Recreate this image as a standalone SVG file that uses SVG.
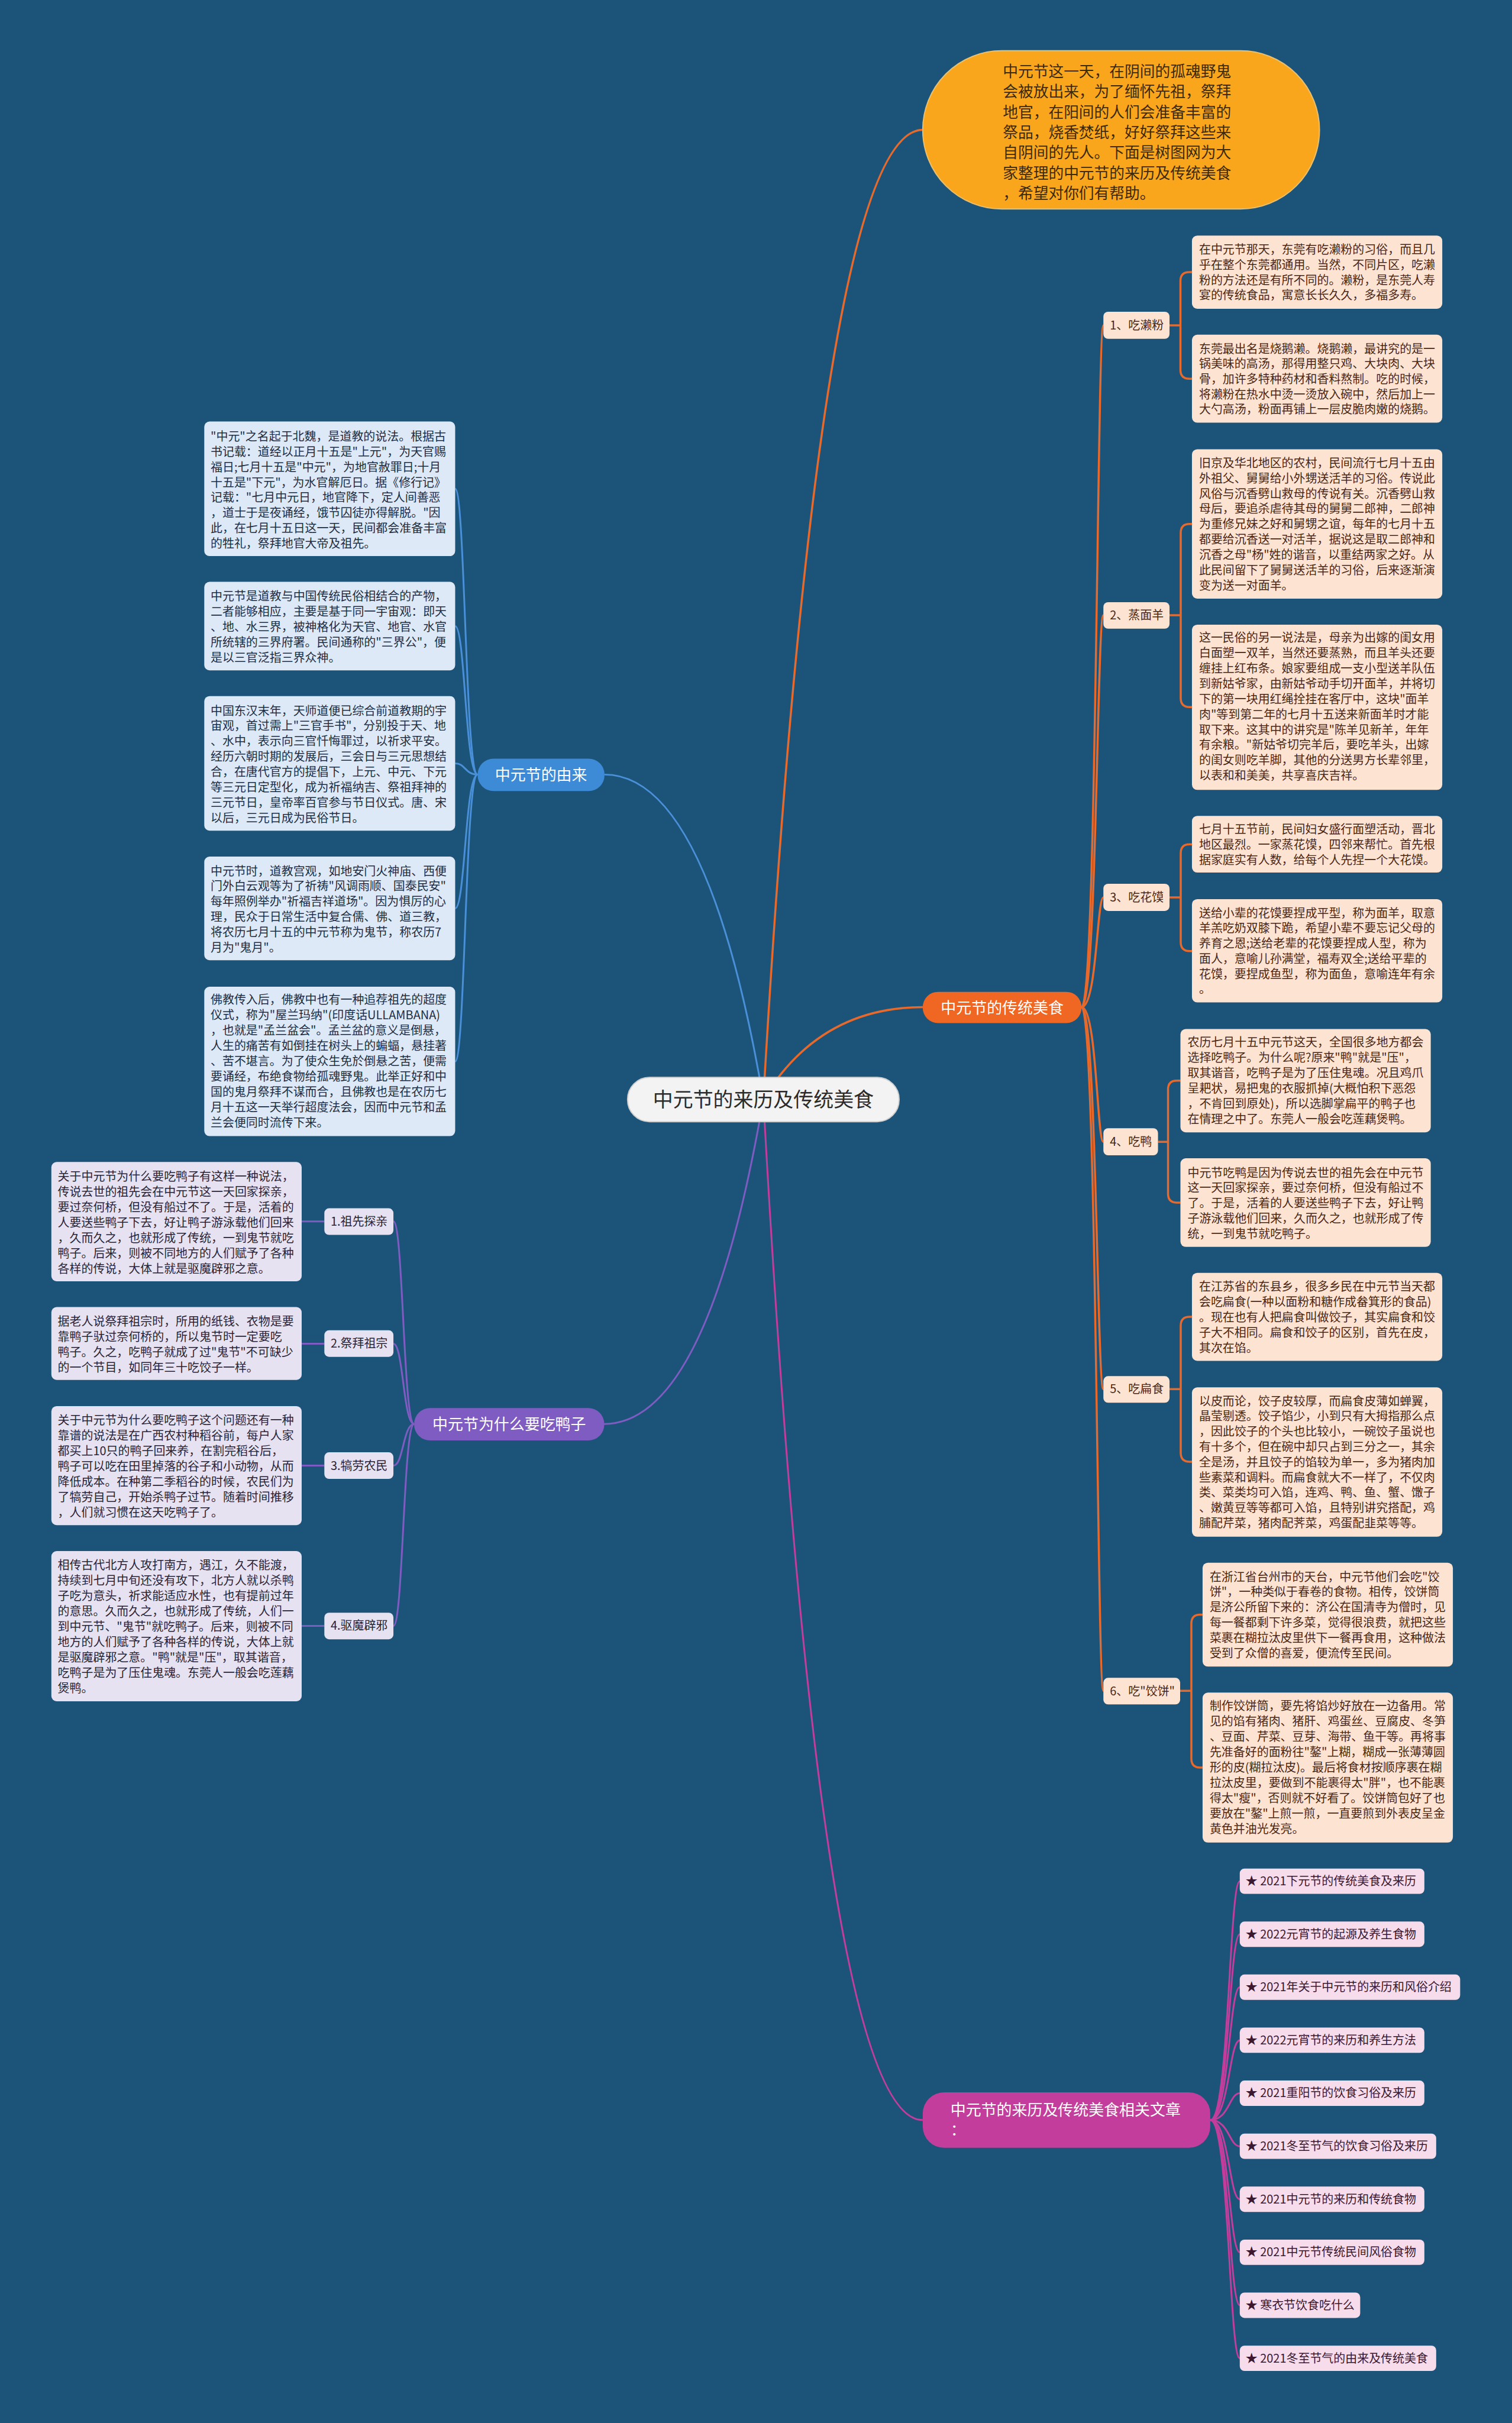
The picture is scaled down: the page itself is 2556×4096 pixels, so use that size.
<svg xmlns="http://www.w3.org/2000/svg" width="2556" height="4096" viewBox="0 0 2556 4096">
<style>
text{font-family:"Noto Sans CJK SC","Noto Sans",sans-serif;}
.t20{font-size:20px;}
.lf{fill:#fde3d2;}
.lft{fill:#4a2816;}
.bl{fill:#dde9f6;}
.blt{fill:#1d2e45;}
.pl{fill:#e6e2f1;}
.plt{fill:#2a2438;}
.pk{fill:#f7dcec;}
.pkt{fill:#3a1830;}
.co{fill:none;stroke:#e7692b;stroke-width:3.5;}
.cb{fill:none;stroke:#4a90d9;stroke-width:3;}
.cp{fill:none;stroke:#7e5cc2;stroke-width:3;}
.cm{fill:none;stroke:#c23d9c;stroke-width:3;}
.br{font-size:26px;fill:#ffffff;text-anchor:middle;}
</style>
<rect x="0" y="0" width="2556" height="4096" fill="#1c5479"/>
<g transform="scale(0.998)">
<g id="connectors">
<path class="co" d="M1293,1862 Q1388,220 1563,220"/>
<path class="co" d="M1293,1862 Q1388,1706 1563,1706"/>
<path class="cm" d="M1293,1862 Q1388,3591 1563,3591"/>
<path class="cb" d="M1293,1862 Q1199,1312 1024,1312"/>
<path class="cp" d="M1293,1862 Q1199,2412 1023,2412"/>
<!-- food spine -->
<path class="co" d="M1832,1706 C1858,1706 1858,551 1869,551"/>
<path class="co" d="M1832,1706 C1858,1706 1858,1042 1869,1042"/>
<path class="co" d="M1832,1706 C1858,1706 1858,1520 1869,1520"/>
<path class="co" d="M1832,1706 C1858,1706 1858,1934 1869,1934"/>
<path class="co" d="M1832,1706 C1858,1706 1858,2353 1869,2353"/>
<path class="co" d="M1832,1706 C1858,1706 1858,2864 1869,2864"/>
<!-- food brackets -->
<path class="co" d="M1981,551 H1999.5 V476 Q1999.5,461 2014.5,461 H2019 M1999.5,551 V626.5 Q1999.5,641.5 2014.5,641.5 H2019"/>
<path class="co" d="M1981,1042 H2000 V902.5 Q2000,887.5 2015,887.5 H2019 M2000,1042 V1182.7 Q2000,1197.7 2015,1197.7 H2019"/>
<path class="co" d="M1981,1520 H2000 V1445 Q2000,1430 2015,1430 H2019 M2000,1520 V1596 Q2000,1611 2015,1611 H2019"/>
<path class="co" d="M1961.5,1934 H1978.5 V1845.5 Q1978.5,1830.5 1993.5,1830.5 H1999.5 M1978.5,1934 V2022 Q1978.5,2037 1993.5,2037 H1999.5"/>
<path class="co" d="M1981,2353 H2000 V2245.5 Q2000,2230.5 2015,2230.5 H2019 M2000,2353 V2461 Q2000,2476 2015,2476 H2019"/>
<path class="co" d="M1999,2864 H2018 V2750 Q2018,2735 2033,2735 H2037 M2018,2864 V2979 Q2018,2994 2033,2994 H2037"/>
<!-- origin -->
<path class="cb" d="M809,1312 C788,1312 788,828 771,828"/>
<path class="cb" d="M809,1312 C788,1312 788,1060.6 771,1060.6"/>
<path class="cb" d="M809,1312 C788,1312 788,1293 771,1293"/>
<path class="cb" d="M809,1312 C788,1312 788,1538.7 771,1538.7"/>
<path class="cb" d="M809,1312 C788,1312 788,1798 771,1798"/>
<!-- duck -->
<path class="cp" d="M701.5,2412 C683,2412 683,2069 666.4,2069"/>
<path class="cp" d="M701.5,2412 C683,2412 683,2276 666.4,2276"/>
<path class="cp" d="M701.5,2412 C683,2412 683,2482.5 666.4,2482.5"/>
<path class="cp" d="M701.5,2412 C683,2412 683,2754 666.4,2754"/>
<path class="cp" d="M511,2069 H549.4 M511,2276 H549.4 M511,2482.5 H549.4 M511,2754 H549.4"/>
<!-- related -->
<path class="cm" d="M2050,3591 C2082,3591 2082,3186.5 2100,3186.5"/>
<path class="cm" d="M2050,3591 C2082,3591 2082,3276.3 2100,3276.3"/>
<path class="cm" d="M2050,3591 C2082,3591 2082,3366 2100,3366"/>
<path class="cm" d="M2050,3591 C2082,3591 2082,3455.8 2100,3455.8"/>
<path class="cm" d="M2050,3591 C2082,3591 2082,3545.6 2100,3545.6"/>
<path class="cm" d="M2050,3591 C2082,3591 2082,3635.4 2100,3635.4"/>
<path class="cm" d="M2050,3591 C2082,3591 2082,3725.2 2100,3725.2"/>
<path class="cm" d="M2050,3591 C2082,3591 2082,3815 2100,3815"/>
<path class="cm" d="M2050,3591 C2082,3591 2082,3904.8 2100,3904.8"/>
<path class="cm" d="M2050,3591 C2082,3591 2082,3994.6 2100,3994.6"/>
</g>

<g id="node-root">
<rect x="1063" y="1825" width="460" height="75" rx="37" fill="#f3f3f3" stroke="#cfcfcf" stroke-width="2"/>
<text x="1293" y="1875" font-size="34" fill="#2b2b2b" text-anchor="middle">中元节的来历及传统美食</text>
</g>

<g id="node-intro">
<rect x="1563" y="86" width="672" height="268" rx="134" fill="#faa61d" stroke="#e8c070" stroke-width="2"/>
<text font-size="25.8" fill="#3b2a0e">
<tspan x="1698.6" y="130">中元节这一天，在阴间的孤魂野鬼</tspan>
<tspan x="1698.6" dy="34.45">会被放出来，为了缅怀先祖，祭拜</tspan>
<tspan x="1698.6" dy="34.45">地官，在阳间的人们会准备丰富的</tspan>
<tspan x="1698.6" dy="34.45">祭品，烧香焚纸，好好祭拜这些来</tspan>
<tspan x="1698.6" dy="34.45">自阴间的先人。下面是树图网为大</tspan>
<tspan x="1698.6" dy="34.45">家整理的中元节的来历及传统美食</tspan>
<tspan x="1698.6" dy="34.45">，希望对你们有帮助。</tspan>
</text>
</g>

<g id="node-food">
<rect x="1563" y="1680" width="269" height="53" rx="26" fill="#f06723"/>
<text x="1697.5" y="1716" class="br">中元节的传统美食</text>
</g>

<g id="node-food-1">
<rect class="lf" x="1869" y="528" width="112" height="46" rx="8"/>
<text class="t20 lft" x="1880" y="558">1、吃濑粉</text>
</g>
<g id="node-food-1a">
<rect class="lf" x="2019" y="399" width="424" height="124" rx="9"/>
<text class="t20 lft"><tspan x="2031" y="430">在中元节那天，东莞有吃濑粉的习俗，而且几</tspan><tspan x="2031" dy="25.8">乎在整个东莞都通用。当然，不同片区，吃濑</tspan><tspan x="2031" dy="25.8">粉的方法还是有所不同的。濑粉，是东莞人寿</tspan><tspan x="2031" dy="25.8">宴的传统食品，寓意长长久久，多福多寿。</tspan></text>
</g>
<g id="node-food-1b">
<rect class="lf" x="2019" y="567" width="424" height="149" rx="9"/>
<text class="t20 lft"><tspan x="2031" y="597.7">东莞最出名是烧鹅濑。烧鹅濑，最讲究的是一</tspan><tspan x="2031" dy="25.8">锅美味的高汤，那得用整只鸡、大块肉、大块</tspan><tspan x="2031" dy="25.8">骨，加许多特种药材和香料熬制。吃的时候，</tspan><tspan x="2031" dy="25.8">将濑粉在热水中烫一烫放入碗中，然后加上一</tspan><tspan x="2031" dy="25.8">大勺高汤，粉面再铺上一层皮脆肉嫩的烧鹅。</tspan></text>
</g>

<g id="node-food-2">
<rect class="lf" x="1869" y="1020" width="112" height="45" rx="8"/>
<text class="t20 lft" x="1880" y="1049.5">2、蒸面羊</text>
</g>
<g id="node-food-2a">
<rect class="lf" x="2019" y="761" width="424" height="253" rx="9"/>
<text class="t20 lft"><tspan x="2031" y="791.4">旧京及华北地区的农村，民间流行七月十五由</tspan><tspan x="2031" dy="25.9">外祖父、舅舅给小外甥送活羊的习俗。传说此</tspan><tspan x="2031" dy="25.9">风俗与沉香劈山救母的传说有关。沉香劈山救</tspan><tspan x="2031" dy="25.9">母后，要追杀虐待其母的舅舅二郎神，二郎神</tspan><tspan x="2031" dy="25.9">为重修兄妹之好和舅甥之谊，每年的七月十五</tspan><tspan x="2031" dy="25.9">都要给沉香送一对活羊，据说这是取二郎神和</tspan><tspan x="2031" dy="25.9">沉香之母"杨"姓的谐音，以重结两家之好。从</tspan><tspan x="2031" dy="25.9">此民间留下了舅舅送活羊的习俗，后来逐渐演</tspan><tspan x="2031" dy="25.9">变为送一对面羊。</tspan></text>
</g>
<g id="node-food-2b">
<rect class="lf" x="2019" y="1058" width="424" height="280" rx="9"/>
<text class="t20 lft"><tspan x="2031" y="1087">这一民俗的另一说法是，母亲为出嫁的闺女用</tspan><tspan x="2031" dy="26">白面塑一双羊，当然还要蒸熟，而且羊头还要</tspan><tspan x="2031" dy="26">缠挂上红布条。娘家要组成一支小型送羊队伍</tspan><tspan x="2031" dy="26">到新姑爷家，由新姑爷动手切开面羊，并将切</tspan><tspan x="2031" dy="26">下的第一块用红绳拴挂在客厅中，这块"面羊</tspan><tspan x="2031" dy="26">肉"等到第二年的七月十五送来新面羊时才能</tspan><tspan x="2031" dy="26">取下来。这其中的讲究是"陈羊见新羊，年年</tspan><tspan x="2031" dy="26">有余粮。"新姑爷切完羊后，要吃羊头，出嫁</tspan><tspan x="2031" dy="26">的闺女则吃羊脚，其他的分送男方长辈邻里，</tspan><tspan x="2031" dy="26">以表和和美美，共享喜庆吉祥。</tspan></text>
</g>

<g id="node-food-3">
<rect class="lf" x="1869" y="1497" width="112" height="46" rx="8"/>
<text class="t20 lft" x="1880" y="1527">3、吃花馍</text>
</g>
<g id="node-food-3a">
<rect class="lf" x="2019" y="1382" width="424" height="96" rx="9"/>
<text class="t20 lft"><tspan x="2031" y="1412">七月十五节前，民间妇女盛行面塑活动，晋北</tspan><tspan x="2031" dy="25.8">地区最烈。一家蒸花馍，四邻来帮忙。首先根</tspan><tspan x="2031" dy="25.8">据家庭实有人数，给每个人先捏一个大花馍。</tspan></text>
</g>
<g id="node-food-3b">
<rect class="lf" x="2019" y="1523" width="424" height="175" rx="9"/>
<text class="t20 lft"><tspan x="2031" y="1553.7">送给小辈的花馍要捏成平型，称为面羊，取意</tspan><tspan x="2031" dy="25.8">羊羔吃奶双膝下跪，希望小辈不要忘记父母的</tspan><tspan x="2031" dy="25.8">养育之恩;送给老辈的花馍要捏成人型，称为</tspan><tspan x="2031" dy="25.8">面人，意喻儿孙满堂，福寿双全;送给平辈的</tspan><tspan x="2031" dy="25.8">花馍，要捏成鱼型，称为面鱼，意喻连年有余</tspan><tspan x="2031" dy="25.8">。</tspan></text>
</g>

<g id="node-food-4">
<rect class="lf" x="1869" y="1911" width="92.5" height="46" rx="8"/>
<text class="t20 lft" x="1880" y="1941">4、吃鸭</text>
</g>
<g id="node-food-4a">
<rect class="lf" x="1999.5" y="1743" width="424" height="175" rx="9"/>
<text class="t20 lft"><tspan x="2011.5" y="1773">农历七月十五中元节这天，全国很多地方都会</tspan><tspan x="2011.5" dy="26">选择吃鸭子。为什么呢?原来"鸭"就是"压"，</tspan><tspan x="2011.5" dy="26">取其谐音，吃鸭子是为了压住鬼魂。况且鸡爪</tspan><tspan x="2011.5" dy="26">呈耙状，易把鬼的衣服抓掉(大概怕积下恶怨</tspan><tspan x="2011.5" dy="26">，不肯回到原处)，所以选脚掌扁平的鸭子也</tspan><tspan x="2011.5" dy="26">在情理之中了。东莞人一般会吃莲藕煲鸭。</tspan></text>
</g>
<g id="node-food-4b">
<rect class="lf" x="1999.5" y="1962" width="424" height="150" rx="9"/>
<text class="t20 lft"><tspan x="2011.5" y="1993.7">中元节吃鸭是因为传说去世的祖先会在中元节</tspan><tspan x="2011.5" dy="25.8">这一天回家探亲，要过奈何桥，但没有船过不</tspan><tspan x="2011.5" dy="25.8">了。于是，活着的人要送些鸭子下去，好让鸭</tspan><tspan x="2011.5" dy="25.8">子游泳载他们回来，久而久之，也就形成了传</tspan><tspan x="2011.5" dy="25.8">统，一到鬼节就吃鸭子。</tspan></text>
</g>

<g id="node-food-5">
<rect class="lf" x="1869" y="2331" width="112" height="45" rx="8"/>
<text class="t20 lft" x="1880" y="2360">5、吃扁食</text>
</g>
<g id="node-food-5a">
<rect class="lf" x="2019" y="2156" width="424" height="149" rx="9"/>
<text class="t20 lft"><tspan x="2031" y="2186.3">在江苏省的东县乡，很多乡民在中元节当天都</tspan><tspan x="2031" dy="26">会吃扁食(一种以面粉和糖作成畚箕形的食品)</tspan><tspan x="2031" dy="26">。现在也有人把扁食叫做饺子，其实扁食和饺</tspan><tspan x="2031" dy="26">子大不相同。扁食和饺子的区别，首先在皮，</tspan><tspan x="2031" dy="26">其次在馅。</tspan></text>
</g>
<g id="node-food-5b">
<rect class="lf" x="2019" y="2350" width="424" height="253" rx="9"/>
<text class="t20 lft"><tspan x="2031" y="2380.3">以皮而论，饺子皮较厚，而扁食皮薄如蝉翼，</tspan><tspan x="2031" dy="25.85">晶莹剔透。饺子馅少，小到只有大拇指那么点</tspan><tspan x="2031" dy="25.85">，因此饺子的个头也比较小，一碗饺子虽说也</tspan><tspan x="2031" dy="25.85">有十多个，但在碗中却只占到三分之一，其余</tspan><tspan x="2031" dy="25.85">全是汤，并且饺子的馅较为单一，多为猪肉加</tspan><tspan x="2031" dy="25.85">些素菜和调料。而扁食就大不一样了，不仅肉</tspan><tspan x="2031" dy="25.85">类、菜类均可入馅，连鸡、鸭、鱼、蟹、馓子</tspan><tspan x="2031" dy="25.85">、嫩黄豆等等都可入馅，且特别讲究搭配，鸡</tspan><tspan x="2031" dy="25.85">脯配芹菜，猪肉配荠菜，鸡蛋配韭菜等等。</tspan></text>
</g>

<g id="node-food-6">
<rect class="lf" x="1869" y="2842" width="130" height="45" rx="8"/>
<text class="t20 lft" x="1880" y="2871.5">6、吃"饺饼"</text>
</g>
<g id="node-food-6a">
<rect class="lf" x="2037" y="2647" width="424" height="176" rx="9"/>
<text class="t20 lft"><tspan x="2049" y="2678">在浙江省台州市的天台，中元节他们会吃"饺</tspan><tspan x="2049" dy="25.9">饼"，一种类似于春卷的食物。相传，饺饼筒</tspan><tspan x="2049" dy="25.9">是济公所留下来的：济公在国清寺为僧时，见</tspan><tspan x="2049" dy="25.9">每一餐都剩下许多菜，觉得很浪费，就把这些</tspan><tspan x="2049" dy="25.9">菜裹在糊拉汰皮里供下一餐再食用，这种做法</tspan><tspan x="2049" dy="25.9">受到了众僧的喜爱，便流传至民间。</tspan></text>
</g>
<g id="node-food-6b">
<rect class="lf" x="2037" y="2867" width="424" height="254" rx="9"/>
<text class="t20 lft"><tspan x="2049" y="2897">制作饺饼筒，要先将馅炒好放在一边备用。常</tspan><tspan x="2049" dy="26">见的馅有猪肉、猪肝、鸡蛋丝、豆腐皮、冬笋</tspan><tspan x="2049" dy="26">、豆面、芹菜、豆芽、海带、鱼干等。再将事</tspan><tspan x="2049" dy="26">先准备好的面粉往"鏊"上糊，糊成一张薄薄圆</tspan><tspan x="2049" dy="26">形的皮(糊拉汰皮)。最后将食材按顺序裹在糊</tspan><tspan x="2049" dy="26">拉汰皮里，要做到不能裹得太"胖"，也不能裹</tspan><tspan x="2049" dy="26">得太"瘦"，否则就不好看了。饺饼筒包好了也</tspan><tspan x="2049" dy="26">要放在"鏊"上煎一煎，一直要煎到外表皮呈金</tspan><tspan x="2049" dy="26">黄色并油光发亮。</tspan></text>
</g>

<g id="node-origin">
<rect x="809" y="1285" width="215" height="55" rx="27" fill="#3d8ad6"/>
<text x="916.5" y="1322" class="br">中元节的由来</text>
</g>
<g id="node-origin-1">
<rect class="bl" x="346" y="714" width="425" height="228" rx="9"/>
<text class="t20 blt"><tspan x="356.7" y="746.5">"中元"之名起于北魏，是道教的说法。根据古</tspan><tspan x="356.7" dy="25.9">书记载：道经以正月十五是"上元"，为天官赐</tspan><tspan x="356.7" dy="25.9">福日;七月十五是"中元"，为地官赦罪日;十月</tspan><tspan x="356.7" dy="25.9">十五是"下元"，为水官解厄日。据《修行记》</tspan><tspan x="356.7" dy="25.9">记载："七月中元日，地官降下，定人间善恶</tspan><tspan x="356.7" dy="25.9">，道士于是夜诵经，饿节囚徒亦得解脱。"因</tspan><tspan x="356.7" dy="25.9">此，在七月十五日这一天，民间都会准备丰富</tspan><tspan x="356.7" dy="25.9">的牲礼，祭拜地官大帝及祖先。</tspan></text>
</g>
<g id="node-origin-2">
<rect class="bl" x="346" y="985.5" width="425" height="150" rx="9"/>
<text class="t20 blt"><tspan x="356.7" y="1017.4">中元节是道教与中国传统民俗相结合的产物，</tspan><tspan x="356.7" dy="25.9">二者能够相应，主要是基于同一宇宙观：即天</tspan><tspan x="356.7" dy="25.9">、地、水三界，被神格化为天官、地官、水官</tspan><tspan x="356.7" dy="25.9">所统辖的三界府署。民间通称的"三界公"，便</tspan><tspan x="356.7" dy="25.9">是以三官泛指三界众神。</tspan></text>
</g>
<g id="node-origin-3">
<rect class="bl" x="346" y="1179" width="425" height="228" rx="9"/>
<text class="t20 blt"><tspan x="356.7" y="1211">中国东汉末年，天师道便已综合前道教期的宇</tspan><tspan x="356.7" dy="25.9">宙观，首过需上"三官手书"，分别投于天、地</tspan><tspan x="356.7" dy="25.9">、水中，表示向三官忏悔罪过，以祈求平安。</tspan><tspan x="356.7" dy="25.9">经历六朝时期的发展后，三会日与三元思想结</tspan><tspan x="356.7" dy="25.9">合，在唐代官方的提倡下，上元、中元、下元</tspan><tspan x="356.7" dy="25.9">等三元日定型化，成为祈福纳吉、祭祖拜神的</tspan><tspan x="356.7" dy="25.9">三元节日，皇帝率百官参与节日仪式。唐、宋</tspan><tspan x="356.7" dy="25.9">以后，三元日成为民俗节日。</tspan></text>
</g>
<g id="node-origin-4">
<rect class="bl" x="346" y="1451" width="425" height="175.5" rx="9"/>
<text class="t20 blt"><tspan x="356.7" y="1482.5">中元节时，道教宫观，如地安门火神庙、西便</tspan><tspan x="356.7" dy="25.9">门外白云观等为了祈祷"风调雨顺、国泰民安"</tspan><tspan x="356.7" dy="25.9">每年照例举办"祈福吉祥道场"。因为惧厉的心</tspan><tspan x="356.7" dy="25.9">理，民众于日常生活中复合儒、佛、道三教，</tspan><tspan x="356.7" dy="25.9">将农历七月十五的中元节称为鬼节，称农历7</tspan><tspan x="356.7" dy="25.9">月为"鬼月"。</tspan></text>
</g>
<g id="node-origin-5">
<rect class="bl" x="346" y="1671.4" width="425" height="253" rx="9"/>
<text class="t20 blt"><tspan x="356.7" y="1700.9">佛教传入后，佛教中也有一种追荐祖先的超度</tspan><tspan x="356.7" dy="26">仪式，称为"屋兰玛纳"(印度话ULLAMBANA)</tspan><tspan x="356.7" dy="26">，也就是"孟兰盆会"。孟兰盆的意义是倒悬，</tspan><tspan x="356.7" dy="26">人生的痛苦有如倒挂在树头上的蝙蝠，悬挂著</tspan><tspan x="356.7" dy="26">、苦不堪言。为了使众生免於倒悬之苦，便需</tspan><tspan x="356.7" dy="26">要诵经，布绝食物给孤魂野鬼。此举正好和中</tspan><tspan x="356.7" dy="26">国的鬼月祭拜不谋而合，且佛教也是在农历七</tspan><tspan x="356.7" dy="26">月十五这一天举行超度法会，因而中元节和孟</tspan><tspan x="356.7" dy="26">兰会便同时流传下来。</tspan></text>
</g>

<g id="node-duck">
<rect x="701.5" y="2385" width="322" height="55" rx="27" fill="#7e5cc2"/>
<text x="862.5" y="2422" class="br">中元节为什么要吃鸭子</text>
</g>
<g id="node-duck-1">
<rect class="pl" x="549.4" y="2046.7" width="117" height="45" rx="8"/>
<text class="t20 plt" x="560" y="2076">1.祖先探亲</text>
</g>
<g id="node-duck-1a">
<rect class="pl" x="87" y="1968.3" width="424" height="202" rx="9"/>
<text class="t20 plt"><tspan x="97.8" y="2000.3">关于中元节为什么要吃鸭子有这样一种说法，</tspan><tspan x="97.8" dy="26">传说去世的祖先会在中元节这一天回家探亲，</tspan><tspan x="97.8" dy="26">要过奈何桥，但没有船过不了。于是，活着的</tspan><tspan x="97.8" dy="26">人要送些鸭子下去，好让鸭子游泳载他们回来</tspan><tspan x="97.8" dy="26">，久而久之，也就形成了传统，一到鬼节就吃</tspan><tspan x="97.8" dy="26">鸭子。后来，则被不同地方的人们赋予了各种</tspan><tspan x="97.8" dy="26">各样的传说，大体上就是驱魔辟邪之意。</tspan></text>
</g>
<g id="node-duck-2">
<rect class="pl" x="549.4" y="2253.3" width="117" height="45" rx="8"/>
<text class="t20 plt" x="560" y="2283">2.祭拜祖宗</text>
</g>
<g id="node-duck-2a">
<rect class="pl" x="87" y="2214" width="424" height="123.3" rx="9"/>
<text class="t20 plt"><tspan x="97.8" y="2245.3">据老人说祭拜祖宗时，所用的纸钱、衣物是要</tspan><tspan x="97.8" dy="26">靠鸭子驮过奈何桥的，所以鬼节时一定要吃</tspan><tspan x="97.8" dy="26">鸭子。久之，吃鸭子就成了过"鬼节"不可缺少</tspan><tspan x="97.8" dy="26">的一个节目，如同年三十吃饺子一样。</tspan></text>
</g>
<g id="node-duck-3">
<rect class="pl" x="549.4" y="2460" width="117" height="45" rx="8"/>
<text class="t20 plt" x="560" y="2489.5">3.犒劳农民</text>
</g>
<g id="node-duck-3a">
<rect class="pl" x="87" y="2381.7" width="424" height="201.6" rx="9"/>
<text class="t20 plt"><tspan x="97.8" y="2413">关于中元节为什么要吃鸭子这个问题还有一种</tspan><tspan x="97.8" dy="26.1">靠谱的说法是在广西农村种稻谷前，每户人家</tspan><tspan x="97.8" dy="26.1">都买上10只的鸭子回来养，在割完稻谷后，</tspan><tspan x="97.8" dy="26.1">鸭子可以吃在田里掉落的谷子和小动物，从而</tspan><tspan x="97.8" dy="26.1">降低成本。在种第二季稻谷的时候，农民们为</tspan><tspan x="97.8" dy="26.1">了犒劳自己，开始杀鸭子过节。随着时间推移</tspan><tspan x="97.8" dy="26.1">，人们就习惯在这天吃鸭子了。</tspan></text>
</g>
<g id="node-duck-4">
<rect class="pl" x="549.4" y="2731.7" width="117" height="45" rx="8"/>
<text class="t20 plt" x="560" y="2761">4.驱魔辟邪</text>
</g>
<g id="node-duck-4a">
<rect class="pl" x="87" y="2627.3" width="424" height="254.4" rx="9"/>
<text class="t20 plt"><tspan x="97.8" y="2658.7">相传古代北方人攻打南方，遇江，久不能渡，</tspan><tspan x="97.8" dy="26">持续到七月中旬还没有攻下，北方人就以杀鸭</tspan><tspan x="97.8" dy="26">子吃为意头，祈求能适应水性，也有提前过年</tspan><tspan x="97.8" dy="26">的意思。久而久之，也就形成了传统，人们一</tspan><tspan x="97.8" dy="26">到中元节、"鬼节"就吃鸭子。后来，则被不同</tspan><tspan x="97.8" dy="26">地方的人们赋予了各种各样的传说，大体上就</tspan><tspan x="97.8" dy="26">是驱魔辟邪之意。"鸭"就是"压"，取其谐音，</tspan><tspan x="97.8" dy="26">吃鸭子是为了压住鬼魂。东莞人一般会吃莲藕</tspan><tspan x="97.8" dy="26">煲鸭。</tspan></text>
</g>

<g id="node-related">
<rect x="1563" y="3544" width="487" height="94" rx="36" fill="#c23d9c"/>
<text font-size="26" fill="#ffffff"><tspan x="1610" y="3583">中元节的来历及传统美食相关文章</tspan><tspan x="1610" y="3617">：</tspan></text>
</g>
<g id="node-related-1"><rect class="pk" x="2100" y="3165" width="312.7" height="43" rx="8"/><text class="t20 pkt" x="2110" y="3193.5">★ 2021下元节的传统美食及来历</text></g>
<g id="node-related-2"><rect class="pk" x="2100" y="3254.8" width="312.7" height="43" rx="8"/><text class="t20 pkt" x="2110" y="3283.3">★ 2022元宵节的起源及养生食物</text></g>
<g id="node-related-3"><rect class="pk" x="2100" y="3344.5" width="373.3" height="43" rx="8"/><text class="t20 pkt" x="2110" y="3373">★ 2021年关于中元节的来历和风俗介绍</text></g>
<g id="node-related-4"><rect class="pk" x="2100" y="3434.3" width="312.7" height="43" rx="8"/><text class="t20 pkt" x="2110" y="3462.8">★ 2022元宵节的来历和养生方法</text></g>
<g id="node-related-5"><rect class="pk" x="2100" y="3524.1" width="312.7" height="43" rx="8"/><text class="t20 pkt" x="2110" y="3552.6">★ 2021重阳节的饮食习俗及来历</text></g>
<g id="node-related-6"><rect class="pk" x="2100" y="3613.9" width="332.7" height="43" rx="8"/><text class="t20 pkt" x="2110" y="3642.4">★ 2021冬至节气的饮食习俗及来历</text></g>
<g id="node-related-7"><rect class="pk" x="2100" y="3703.7" width="312.7" height="43" rx="8"/><text class="t20 pkt" x="2110" y="3732.2">★ 2021中元节的来历和传统食物</text></g>
<g id="node-related-8"><rect class="pk" x="2100" y="3793.5" width="312.7" height="43" rx="8"/><text class="t20 pkt" x="2110" y="3822">★ 2021中元节传统民间风俗食物</text></g>
<g id="node-related-9"><rect class="pk" x="2100" y="3883.3" width="204" height="43" rx="8"/><text class="t20 pkt" x="2110" y="3911.8">★ 寒衣节饮食吃什么</text></g>
<g id="node-related-10"><rect class="pk" x="2100" y="3973.1" width="332.7" height="43" rx="8"/><text class="t20 pkt" x="2110" y="4001.6">★ 2021冬至节气的由来及传统美食</text></g>
</g>
</svg>
